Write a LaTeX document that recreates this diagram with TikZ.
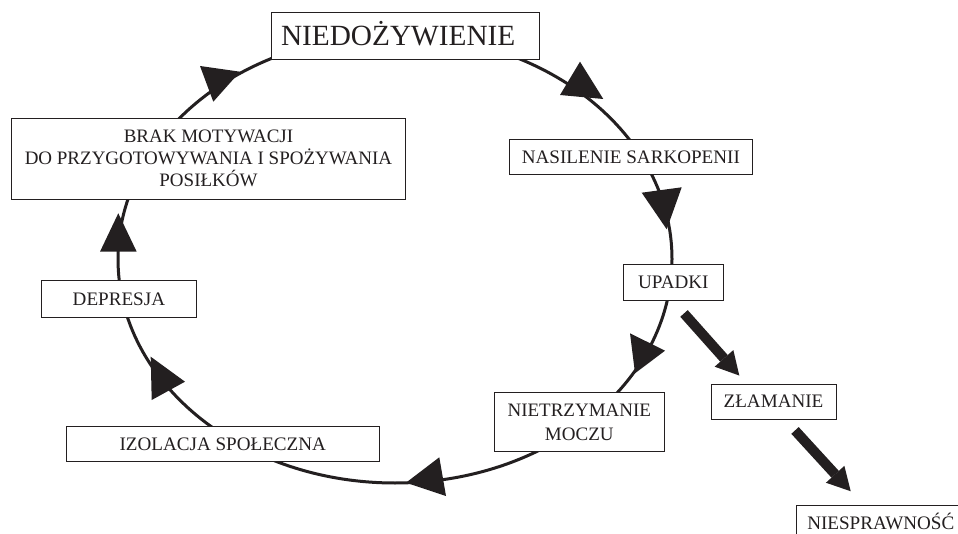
\documentclass[tikz,border=0pt]{standalone}
\usepackage{fontspec}
\setmainfont{Liberation Serif}
\usetikzlibrary{shapes.geometric,arrows.meta,calc}
\definecolor{ink}{HTML}{231F20}
\begin{document}
\begin{tikzpicture}[x=1pt,y=-1pt,
  box/.style={draw=ink, line width=0.9pt, fill=white, text=ink, font=\fontsize{19.1}{22}\selectfont, inner sep=0pt, text height=12.6pt, text depth=0pt},
  mbox/.style={draw=ink, line width=0.9pt, fill=white, text=ink, font=\fontsize{19}{22}\selectfont, inner sep=0pt, align=center},
  loopline/.style={draw=ink, line width=3pt},
  head/.style={fill=ink},
  bigarrow/.style={draw=ink, line width=10pt, -{Triangle[length=23pt,width=25pt,line width=0pt]}}
]
\useasboundingbox (0,0) rectangle (958,534);
\clip (0,0) rectangle (958,534);
\fill[white] (0,0) rectangle (958,534);
% the cycle
\node[ellipse, loopline, minimum width=554pt, minimum height=448pt, inner sep=0pt, outer sep=0pt] (loop) at (395,259) {};
% arrowheads on the cycle
\fill[head] (200,66) -- (240,71.7) -- (213.3,101.7) -- cycle;
\fill[head] (580,61.7) -- (560,95) -- (603.3,99) -- cycle;
\fill[head] (641.7,192.7) -- (681.7,187.3) -- (666.7,229.3) -- cycle;
\fill[head] (630,333.3) -- (665,350.7) -- (635,373.3) -- cycle;
\fill[head] (439.3,457.3) -- (406,482.7) -- (446,496) -- cycle;
\fill[head] (150.7,356.7) -- (185,381.7) -- (151.7,400) -- cycle;
\fill[head] (118.3,213.3) -- (100,251.7) -- (136.7,251.7) -- cycle;
% boxes
\node[box, font=\fontsize{29.3}{33}\selectfont, text height=19.4pt, minimum width=268pt, minimum height=47.3pt, text width=248pt, inner xsep=10pt, align=left] (nied) at (405,36.3) {NIEDOŻYWIENIE};
\node[mbox, minimum width=393.3pt, minimum height=81pt] (brak) at (208.5,158.8) {BRAK MOTYWACJI\\DO PRZYGOTOWYWANIA I SPOŻYWANIA\\POSIŁKÓW};
\node[box, minimum width=154.3pt, minimum height=36.3pt] (dep) at (118.9,299) {DEPRESJA};
\node[box, minimum width=312.3pt, minimum height=35.7pt] (izo) at (222.8,443.8) {IZOLACJA SPOŁECZNA};
\node[box, minimum width=243.7pt, minimum height=35pt] (nas) at (630.9,156.8) {NASILENIE SARKOPENII};
\node[box, minimum width=100pt, minimum height=36.4pt] (upa) at (673.3,282.5) {UPADKI};
\node[mbox, font=\fontsize{19}{24}\selectfont, minimum width=170pt, minimum height=59pt] (niet) at (579.3,422.2) {NIETRZYMANIE\\MOCZU};
\node[box, minimum width=125pt, minimum height=35pt] (zlam) at (773.5,401.5) {ZŁAMANIE};
\node[box, minimum width=169.6pt, minimum height=36.8pt] (nies) at (880.8,523.4) {NIESPRAWNOŚĆ};
% thick arrows
\draw[bigarrow] ($(upa.south)+(10.7,12.3)$) -- ($(zlam.north)+(-34.2,-8)$);
\draw[bigarrow] ($(zlam.south)+(21.5,11)$) -- ($(nies.north)+(-30.1,-13.3)$);
\end{tikzpicture}
\end{document}
